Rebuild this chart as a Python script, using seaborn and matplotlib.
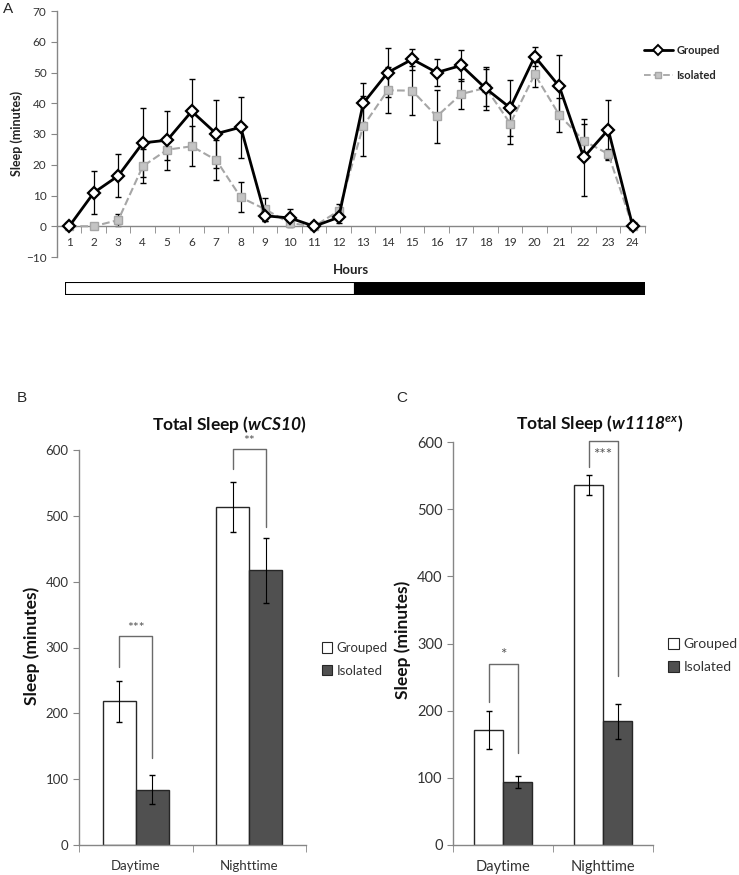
import matplotlib.pyplot as plt
import numpy as np
import pandas as pd
import seaborn as sns
from matplotlib.lines import Line2D
from matplotlib.patches import Patch

# ---- data ----
hours = list(range(1, 25))
grouped = [0, 10.9, 16.4, 27.1, 28.0, 37.4, 30.1, 32.2, 3.4, 2.7, 0, 2.9,
           40.0, 50.0, 54.3, 50.0, 52.3, 44.8, 38.5, 55.2, 45.5, 22.4, 31.4, 0]
grouped_err = [0, 7.0, 7.0, 11.2, 9.6, 10.4, 11.0, 9.9, 1.8, 2.8, 0, 1.8,
               6.6, 8.0, 3.5, 4.5, 5.0, 7.0, 9.0, 3.2, 10.1, 12.6, 9.8, 0]
isolated = [0, 0, 2.0, 19.5, 24.9, 26.0, 21.5, 9.4, 5.5, 1.0, 0, 5.0,
            32.6, 44.2, 44.1, 35.7, 43.0, 45.0, 33.4, 49.4, 36.2, 27.8, 23.5, 0]
isolated_err = [0, 0, 2.0, 5.5, 3.5, 6.5, 6.5, 4.9, 3.8, 0.8, 0, 2.2,
                9.6, 7.5, 8.0, 8.5, 5.0, 6.0, 6.6, 4.0, 5.4, 5.6, 1.5, 0]
phases = ['light', 'dark']
phase_hours = [12, 12]

periods = ['Daytime', 'Nighttime']
groups = ['Grouped', 'Isolated']
b_grouped = [218, 514]
b_grouped_err = [31, 38]
b_isolated = [84, 417]
b_isolated_err = [22, 49]
c_grouped = [171, 536]
c_grouped_err = [28, 15.5]
c_isolated = [94, 184]
c_isolated_err = [9, 26]

sns.set_style('ticks')
plt.rcParams['font.family'] = ['Lato', 'DejaVu Sans']
plt.rcParams['mathtext.fontset'] = 'custom'
plt.rcParams['mathtext.rm'] = 'Lato'
plt.rcParams['mathtext.bfit'] = 'Lato:italic:bold'

W, H = 739, 875
SPINE = '#868686'
TXT = '#333333'
fig = plt.figure(figsize=(W / 100, H / 100), dpi=100)


def box(l, t, r, b):
    return [l / W, 1 - b / H, (r - l) / W, (b - t) / H]


def style_axes(ax, size):
    for s in ['top', 'right']:
        ax.spines[s].set_visible(False)
    for s in ['left', 'bottom']:
        ax.spines[s].set_color(SPINE)
        ax.spines[s].set_linewidth(1)
    ax.tick_params(axis='y', length=4, color=SPINE, labelsize=size, labelcolor=TXT)
    ax.tick_params(axis='x', which='major', length=0, labelsize=size, labelcolor=TXT)
    ax.tick_params(axis='x', which='minor', length=5, color=SPINE, direction='out')


# ---- panel A ----
ax = fig.add_axes(box(57, 11, 645, 257))
ax.errorbar(hours, grouped, yerr=grouped_err, fmt='none', ecolor='black',
            elinewidth=0.9, capsize=2.5, zorder=2)
ax.errorbar(hours, isolated, yerr=isolated_err, fmt='none', ecolor='black',
            elinewidth=0.9, capsize=2.5, zorder=2)
sns.lineplot(x=hours, y=isolated, ax=ax, color='#a6a6a6', lw=1.5, linestyle='--',
             marker='s', ms=6, mfc='#c4c4c4', mec='#a6a6a6', mew=1, zorder=3)
sns.lineplot(x=hours, y=grouped, ax=ax, color='black', lw=2, marker='D', ms=6,
             mfc='white', mec='black', mew=1.6, zorder=4)
ax.set_xlim(0.5, 24.5)
ax.set_ylim(-10, 70)
ax.set_yticks(range(-10, 71, 10))
ax.set_xticks(hours)
ax.set_xticks(np.arange(0.5, 25, 1), minor=True)
style_axes(ax, 8.5)
ax.spines['bottom'].set_position(('data', 0))
ax.tick_params(axis='x', which='major', pad=8)
ax.set_xlabel('')
ax.set_ylabel('')
fig.text(17 / W, 1 - 133 / H, 'Sleep (minutes)', rotation=90, ha='center', va='center',
         weight='bold', size=9, color='#222222')
fig.text(351 / W, 1 - 270 / H, 'Hours', ha='center', va='center', weight='bold', size=9.5,
         color='#222222')
handles = [Line2D([], [], color='black', lw=2, marker='D', ms=5, mfc='white', mec='black', mew=1.4),
           Line2D([], [], color='#a6a6a6', lw=1.3, ls='--', marker='s', ms=5, mfc='#c4c4c4', mec='#a6a6a6')]
fig.legend(handles, groups, loc='center left', bbox_to_anchor=(634 / W, 1 - 63 / H),
           frameon=False, prop=dict(weight='bold', size=8), handlelength=2.6,
           labelspacing=1.2, handletextpad=0.3)

# light / dark bar
axl = fig.add_axes(box(65, 282, 645, 295))
axl.barh([0, 0], phase_hours, left=[0, phase_hours[0]], color=['white', 'black'],
         edgecolor='black', linewidth=1.5, height=1)
axl.set_xlim(0, sum(phase_hours))
axl.set_ylim(-0.5, 0.5)
axl.axis('off')

fig.text(8 / W, 1 - 9 / H, 'A', family='Liberation Sans', size=11, ha='center', va='center')


# ---- panels B and C ----
def bar_panel(rect, grp, grp_err, iso, iso_err, size, legsize, legx):
    ax = fig.add_axes(rect)
    df = pd.DataFrame({'period': periods * 2, 'sleep': grp + iso,
                       'group': [groups[0]] * 2 + [groups[1]] * 2})
    sns.barplot(data=df, x='period', y='sleep', hue='group', palette=['white', '#505050'],
                edgecolor='#262626', linewidth=1, width=0.58, errorbar=None, ax=ax, legend=False)
    pos = np.arange(len(periods))
    off = 0.58 / 4
    ax.errorbar(pos - off, grp, yerr=grp_err, fmt='none', ecolor='black', elinewidth=0.8, capsize=2.5)
    ax.errorbar(pos + off, iso, yerr=iso_err, fmt='none', ecolor='black', elinewidth=0.8, capsize=2.5)
    ax.set_xlim(-0.5, 1.5)
    ax.set_ylim(0, 600)
    ax.set_yticks(range(0, 601, 100))
    ax.set_xticks(np.arange(-0.5, 2, 1), minor=True)
    style_axes(ax, size)
    ax.tick_params(axis='x', which='major', pad=11)
    ax.set_xlabel('')
    ax.set_ylabel('')
    h = [Patch(facecolor='white', edgecolor='#262626', lw=0.8),
         Patch(facecolor='#505050', edgecolor='#262626', lw=0.8)]
    ax.legend(h, groups, loc='center left', bbox_to_anchor=(legx, 0.47), frameon=False,
              fontsize=legsize, handlelength=0.8, handleheight=0.8, handletextpad=0.3,
              labelspacing=0.8, labelcolor=TXT, borderaxespad=0, borderpad=0)
    return ax, pos, off


def bracket(ax, x0, x1, ytop, yl, yr, stars, ys, size=10):
    ax.plot([x0, x0, x1, x1], [yl, ytop, ytop, yr], color='#6a6a6a', lw=1, clip_on=False)
    ax.text((x0 + x1) / 2, ys, stars, ha='center', va='center', size=size, color='#555555')


axb, pos, off = bar_panel(box(79, 450, 306, 845), b_grouped, b_grouped_err, b_isolated,
                          b_isolated_err, 9.5, 9.5, 1.07)
bracket(axb, pos[0] - off, pos[0] + off, 318, 270, 132, '***', 330)
bracket(axb, pos[1] - off, pos[1] + off, 601, 571, 483, '**', 613)
fig.text(229 / W, 1 - 424 / H, r'Total Sleep ($\mathbfit{wCS10}$)', ha='center', va='center',
         weight='bold', size=12.5, color='#111111')
fig.text(32 / W, 1 - 646 / H, 'Sleep (minutes)', rotation=90, ha='center', va='center',
         weight='bold', size=12.5, color='#111111')
fig.text(22 / W, 1 - 398 / H, 'B', family='Liberation Sans', size=11, ha='center', va='center')

axc, pos, off = bar_panel(box(453, 442, 653, 845), c_grouped, c_grouped_err, c_isolated,
                          c_isolated_err, 10.5, 10, 1.075)
bracket(axc, pos[0] - off, pos[0] + off, 269, 213, 137, '*', 283, size=11)
bracket(axc, pos[1] - off, pos[1] + off, 601, 563, 251, '***', 580, size=11)
fig.text(600 / W, 1 - 423 / H, r'Total Sleep ($\mathbfit{w1118^{ex}}$)', ha='center', va='center',
         weight='bold', size=12.5, color='#111111')
fig.text(403 / W, 1 - 640 / H, 'Sleep (minutes)', rotation=90, ha='center', va='center',
         weight='bold', size=12.5, color='#111111')
fig.text(402 / W, 1 - 398 / H, 'C', family='Liberation Sans', size=11, ha='center', va='center')

fig.savefig('out.png', dpi=100)
